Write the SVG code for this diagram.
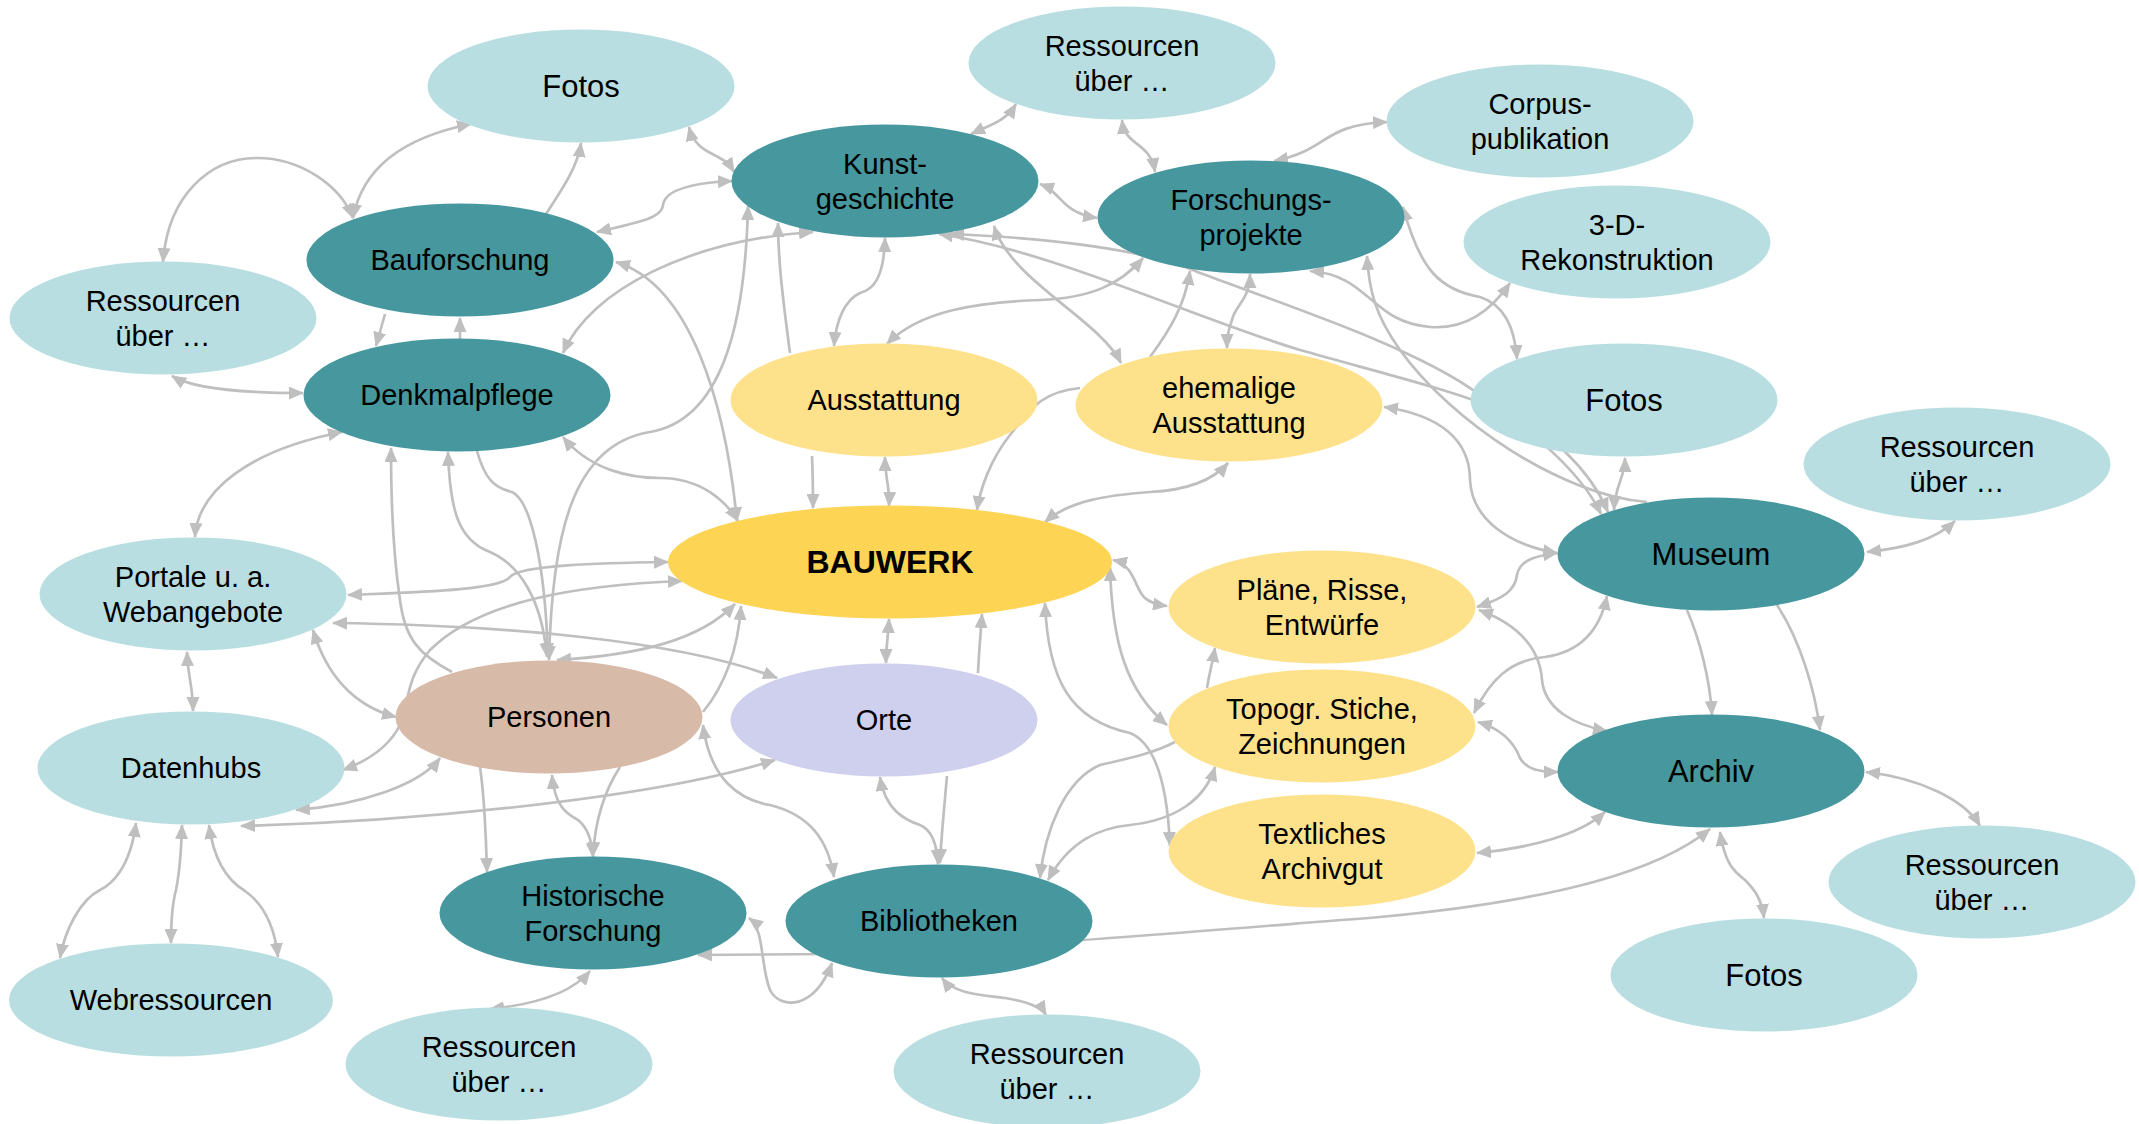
<svg xmlns="http://www.w3.org/2000/svg" width="2139" height="1124" viewBox="0 0 2139 1124">
<defs>
<marker id="ah" viewBox="0 0 15 13" refX="14" refY="6.5" markerWidth="15" markerHeight="13" markerUnits="userSpaceOnUse" orient="auto-start-reverse"><path d="M0,0 L15,6.5 L0,13 z" fill="#BFBFBF"/></marker>
<style>
.c{fill:none;stroke:#BFBFBF;stroke-width:2.7}
.b{marker-start:url(#ah);marker-end:url(#ah)}
.e{marker-end:url(#ah)}
.lt{fill:#B9DEE1}
.dk{fill:#46979E}
.yl{fill:#FDE28B}
.bw{fill:#FDD454}
.pe{fill:#D8BAA9}
.or{fill:#CFCFEE}
text{font-family:"Liberation Sans",Arial,sans-serif;font-size:29px;fill:#000;text-anchor:middle}
.big{font-size:31px}
.bold{font-size:32px;font-weight:bold}
</style>
</defs>
<rect width="2139" height="1124" fill="#FFFFFF"/>
<g id="connectors">
<path class="c b" d="M353,218 C362,170 400,138 471,124"/>
<path class="c b" d="M163,262 C168,195 210,158 257,158 C300,158 340,185 353,218"/>
<path class="c e" d="M546,214 C565,185 578,165 581,143"/>
<path class="c e" d="M385,314 C382,325 379,335 376,346"/>
<path class="c e" d="M460,339 L460,318"/>
<path class="c b" d="M172,376 C195,390 250,393 303,393"/>
<path class="c b" d="M597,232 C640,222 662,218 663,205 C665,190 690,183 732,181"/>
<path class="c b" d="M689,127 C694,148 710,152 718,157 C728,162 731,167 734,172"/>
<path class="c b" d="M616,262 C690,285 725,400 737,521"/>
<path class="c b" d="M563,353 C590,290 690,240 813,232"/>
<path class="c b" d="M563,437 C590,470 630,478 660,478 C700,478 725,500 738,521"/>
<path class="c b" d="M748,206 C745,330 720,420 650,432 C570,445 552,540 549,660"/>
<path class="c e" d="M790,353 C783,300 778,260 778,223"/>
<path class="c b" d="M885,238 C884,280 872,290 860,293 C845,300 836,320 834,346"/>
<path class="c b" d="M887,344 C920,310 980,302 1040,300 C1090,298 1120,285 1143,258"/>
<path class="c b" d="M971,134 C990,125 1005,122 1016,104"/>
<path class="c b" d="M1122,120 C1125,148 1150,140 1155,172"/>
<path class="c b" d="M1040,184 C1062,192 1060,212 1097,218"/>
<path class="c b" d="M1274,161 C1330,150 1320,125 1387,122"/>
<path class="c b" d="M1310,271 C1370,275 1370,322 1430,327 C1470,330 1495,305 1510,283"/>
<path class="c b" d="M1403,207 C1420,270 1440,290 1480,297 C1505,305 1515,330 1517,359"/>
<path class="c e" d="M1647,502 C1560,495 1450,420 1400,350 C1375,315 1369,290 1367,256"/>
<path class="c b" d="M1384,407 C1440,415 1470,440 1470,480 C1472,520 1510,545 1557,553"/>
<path class="c e" d="M1150,357 C1170,330 1185,305 1190,271"/>
<path class="c b" d="M1250,274 C1250,300 1235,305 1232,320 C1228,330 1227,340 1227,348"/>
<path class="c b" d="M1045,522 C1070,500 1110,495 1150,492 C1190,490 1215,478 1228,463"/>
<path class="c e" d="M1080,388 C1040,392 1030,410 1010,435 C990,460 980,490 977,510"/>
<path class="c e" d="M812,456 C813,480 813,495 813,508"/>
<path class="c b" d="M885,457 C885,480 890,485 889,506"/>
<path class="c b" d="M889,619 C888,640 886,645 886,663"/>
<path class="c e" d="M978,673 C979,650 981,630 982,614"/>
<path class="c b" d="M557,660 C640,655 700,640 735,604"/>
<path class="c e" d="M703,712 C725,685 738,650 741,606"/>
<path class="c b" d="M348,595 C420,592 500,590 510,577 C520,565 600,563 668,562"/>
<path class="c b" d="M343,770 C370,760 390,745 400,725 C410,700 405,680 430,650 C480,600 580,585 682,581"/>
<path class="c b" d="M296,810 C360,805 420,785 440,758"/>
<path class="c b" d="M241,826 C400,822 650,800 775,760"/>
<path class="c b" d="M333,623 C500,625 680,640 777,678"/>
<path class="c b" d="M313,630 C325,670 350,705 396,717"/>
<path class="c b" d="M448,452 C450,510 458,540 490,552 C520,565 542,600 547,657"/>
<path class="c e" d="M477,451 C485,480 495,488 512,492 C530,500 545,560 548,657"/>
<path class="c e" d="M452,672 C420,655 405,640 400,600 C394,560 391,500 391,448"/>
<path class="c b" d="M195,537 C198,490 250,450 342,432"/>
<path class="c b" d="M187,652 C188,680 193,685 193,711"/>
<path class="c b" d="M136,823 C130,870 110,885 100,890 C80,900 65,930 60,958"/>
<path class="c b" d="M182,825 C181,860 178,880 176,890 C172,905 171,920 171,943"/>
<path class="c b" d="M209,825 C215,870 235,885 245,891 C265,905 275,930 278,957"/>
<path class="c e" d="M480,767 C485,800 486,840 487,872"/>
<path class="c b" d="M552,775 C555,810 570,815 578,820 C588,828 592,840 593,857"/>
<path class="c e" d="M620,767 C605,790 595,820 593,856"/>
<path class="c b" d="M590,971 C570,995 530,1005 490,1009"/>
<path class="c b" d="M698,955 L830,954 C950,952 1150,935 1380,917 C1560,900 1660,870 1710,829"/>
<path class="c b" d="M749,918 C765,930 760,965 770,990 C780,1010 815,1010 832,963"/>
<path class="c b" d="M880,777 C885,810 905,820 920,825 C932,830 937,845 938,864"/>
<path class="c e" d="M947,776 C944,810 941,840 940,863"/>
<path class="c b" d="M703,725 C710,780 740,800 770,805 C810,815 828,840 834,877"/>
<path class="c b" d="M1045,603 C1048,680 1070,720 1130,733 C1160,745 1168,800 1170,846"/>
<path class="c e" d="M1175,742 C1150,755 1120,760 1100,765 C1065,780 1045,830 1040,878"/>
<path class="c b" d="M1048,880 C1070,840 1100,828 1130,825 C1175,820 1205,800 1215,767"/>
<path class="c e" d="M1207,688 C1210,670 1213,660 1215,648"/>
<path class="c b" d="M1110,567 C1112,640 1125,690 1167,725"/>
<path class="c b" d="M1113,560 C1135,565 1135,590 1145,598 C1150,603 1160,605 1167,606"/>
<path class="c b" d="M1477,607 C1505,598 1515,590 1517,575 C1520,560 1535,556 1557,553"/>
<path class="c b" d="M1479,610 C1520,625 1540,650 1542,680 C1545,710 1575,725 1607,731"/>
<path class="c b" d="M1474,713 C1490,680 1510,660 1545,657 C1580,652 1600,630 1607,596"/>
<path class="c b" d="M1478,722 C1505,730 1515,745 1520,758 C1527,770 1540,772 1558,772"/>
<path class="c b" d="M1477,853 C1530,848 1580,835 1605,812"/>
<path class="c e" d="M1687,610 C1700,640 1710,680 1712,715"/>
<path class="c e" d="M1777,605 C1800,640 1815,690 1820,730"/>
<path class="c b" d="M1867,552 C1905,548 1935,540 1955,521"/>
<path class="c b" d="M1866,772 C1920,778 1965,800 1980,826"/>
<path class="c b" d="M1720,832 C1725,865 1735,872 1745,880 C1755,890 1762,900 1764,918"/>
<path class="c b" d="M942,978 C955,995 985,995 1005,998 C1030,1002 1042,1008 1046,1015"/>
<path class="c b" d="M950,234 C1050,238 1150,250 1200,273 C1300,310 1420,350 1480,395 C1530,430 1580,470 1601,514"/>
<path class="c b" d="M994,226 C1010,280 1100,320 1121,363"/>
<path class="c b" d="M939,234 C1050,250 1200,320 1300,350 C1400,378 1450,390 1500,410 C1550,430 1590,470 1608,512"/>
<path class="c b" d="M1625,458 C1625,478 1615,485 1614,510"/>
</g>
<g id="n-fotos-tl"><ellipse class="lt" cx="581" cy="86" rx="153.5" ry="56.5"/><text class="big" x="581" y="97">Fotos</text></g>
<g id="n-res-top"><ellipse class="lt" cx="1122" cy="63" rx="153.5" ry="56.5"/><text x="1122" y="56">Ressourcen</text><text x="1122" y="91">über …</text></g>
<g id="n-corpus"><ellipse class="lt" cx="1540" cy="121" rx="153.5" ry="56.5"/><text x="1540" y="114">Corpus-</text><text x="1540" y="149">publikation</text></g>
<g id="n-kunst"><ellipse class="dk" cx="885" cy="181" rx="153.5" ry="56.5"/><text x="885" y="174">Kunst-</text><text x="885" y="209">geschichte</text></g>
<g id="n-forsch"><ellipse class="dk" cx="1251" cy="217" rx="153.5" ry="56.5"/><text x="1251" y="210">Forschungs-</text><text x="1251" y="245">projekte</text></g>
<g id="n-3d"><ellipse class="lt" cx="1617" cy="242" rx="153.5" ry="56.5"/><text x="1617" y="235">3-D-</text><text x="1617" y="270">Rekonstruktion</text></g>
<g id="n-bauf"><ellipse class="dk" cx="460" cy="260" rx="153.5" ry="56.5"/><text x="460" y="270">Bauforschung</text></g>
<g id="n-res-left"><ellipse class="lt" cx="163" cy="318" rx="153.5" ry="56.5"/><text x="163" y="311">Ressourcen</text><text x="163" y="346">über …</text></g>
<g id="n-denk"><ellipse class="dk" cx="457" cy="395" rx="153.5" ry="56.5"/><text x="457" y="405">Denkmalpflege</text></g>
<g id="n-ausst"><ellipse class="yl" cx="884" cy="400" rx="153.5" ry="56.5"/><text x="884" y="410">Ausstattung</text></g>
<g id="n-ehem"><ellipse class="yl" cx="1229" cy="405" rx="153.5" ry="56.5"/><text x="1229" y="398">ehemalige</text><text x="1229" y="433">Ausstattung</text></g>
<g id="n-fotos-r"><ellipse class="lt" cx="1624" cy="400" rx="153.5" ry="56.5"/><text class="big" x="1624" y="411">Fotos</text></g>
<g id="n-res-r"><ellipse class="lt" cx="1957" cy="464" rx="153.5" ry="56.5"/><text x="1957" y="457">Ressourcen</text><text x="1957" y="492">über …</text></g>
<g id="n-bauwerk"><ellipse class="bw" cx="890" cy="562" rx="222" ry="56.5"/><text class="bold" x="890" y="573">BAUWERK</text></g>
<g id="n-portale"><ellipse class="lt" cx="193" cy="594" rx="153.5" ry="56.5"/><text x="193" y="587">Portale u. a.</text><text x="193" y="622">Webangebote</text></g>
<g id="n-museum"><ellipse class="dk" cx="1711" cy="554" rx="153.5" ry="56.5"/><text class="big" x="1711" y="565">Museum</text></g>
<g id="n-plaene"><ellipse class="yl" cx="1322" cy="607" rx="153.5" ry="56.5"/><text x="1322" y="600">Pläne, Risse,</text><text x="1322" y="635">Entwürfe</text></g>
<g id="n-personen"><ellipse class="pe" cx="549" cy="717" rx="153.5" ry="56.5"/><text x="549" y="727">Personen</text></g>
<g id="n-orte"><ellipse class="or" cx="884" cy="720" rx="153.5" ry="56.5"/><text x="884" y="730">Orte</text></g>
<g id="n-topogr"><ellipse class="yl" cx="1322" cy="726" rx="153.5" ry="56.5"/><text x="1322" y="719">Topogr. Stiche,</text><text x="1322" y="754">Zeichnungen</text></g>
<g id="n-datenhubs"><ellipse class="lt" cx="191" cy="768" rx="153.5" ry="56.5"/><text x="191" y="778">Datenhubs</text></g>
<g id="n-archiv"><ellipse class="dk" cx="1711" cy="771" rx="153.5" ry="56.5"/><text class="big" x="1711" y="782">Archiv</text></g>
<g id="n-textl"><ellipse class="yl" cx="1322" cy="851" rx="153.5" ry="56.5"/><text x="1322" y="844">Textliches</text><text x="1322" y="879">Archivgut</text></g>
<g id="n-hf"><ellipse class="dk" cx="593" cy="913" rx="153.5" ry="56.5"/><text x="593" y="906">Historische</text><text x="593" y="941">Forschung</text></g>
<g id="n-biblio"><ellipse class="dk" cx="939" cy="921" rx="153.5" ry="56.5"/><text x="939" y="931">Bibliotheken</text></g>
<g id="n-res-br"><ellipse class="lt" cx="1982" cy="882" rx="153.5" ry="56.5"/><text x="1982" y="875">Ressourcen</text><text x="1982" y="910">über …</text></g>
<g id="n-webres"><ellipse class="lt" cx="171" cy="1000" rx="162" ry="56.5"/><text x="171" y="1010">Webressourcen</text></g>
<g id="n-fotos-br"><ellipse class="lt" cx="1764" cy="975" rx="153.5" ry="56.5"/><text class="big" x="1764" y="986">Fotos</text></g>
<g id="n-res-bl"><ellipse class="lt" cx="499" cy="1064" rx="153.5" ry="56.5"/><text x="499" y="1057">Ressourcen</text><text x="499" y="1092">über …</text></g>
<g id="n-res-b"><ellipse class="lt" cx="1047" cy="1071" rx="153.5" ry="56.5"/><text x="1047" y="1064">Ressourcen</text><text x="1047" y="1099">über …</text></g>
</svg>
